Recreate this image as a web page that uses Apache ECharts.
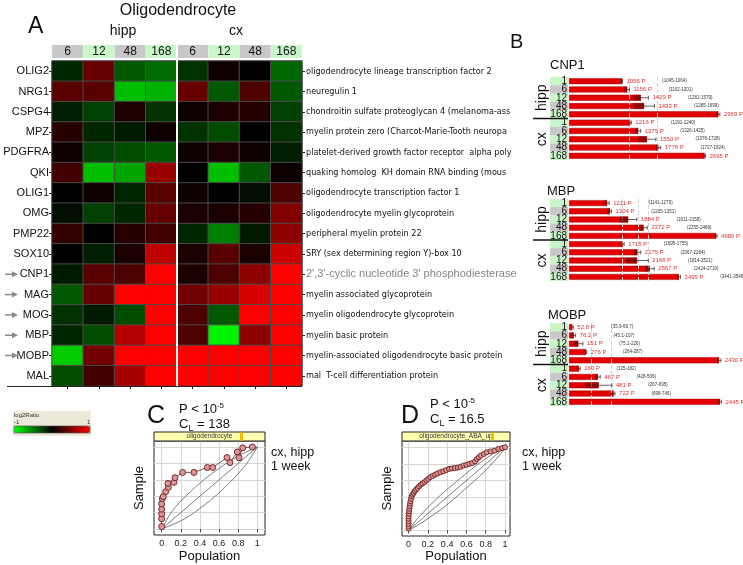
<!DOCTYPE html>
<html><head><meta charset="utf-8">
<script src="https://cdn.jsdelivr.net/npm/echarts@6/dist/echarts.min.js"></script>
<style>html,body{margin:0;padding:0;background:#fff}#c{width:743px;height:565px}</style>
</head><body><div id="c"></div><script>
// ---------- DATA ----------
const timepoints = ['6','12','48','168','6','12','48','168'];
const genes = ['OLIG2','NRG1','CSPG4','MPZ','PDGFRA','QKI','OLIG1','OMG','PMP22','SOX10','CNP1','MAG','MOG','MBP','MOBP','MAL'];
const descriptions = [
 'oligodendrocyte lineage transcription factor 2',
 'neuregulin 1',
 'chondroitin sulfate proteoglycan 4 (melanoma-ass',
 'myelin protein zero (Charcot-Marie-Tooth neuropa',
 'platelet-derived growth factor receptor  alpha poly',
 'quaking homolog  KH domain RNA binding (mous',
 'oligodendrocyte transcription factor 1',
 'oligodendrocyte myelin glycoprotein',
 'peripheral myelin protein 22',
 'SRY (sex determining region Y)-box 10',
 "2',3'-cyclic nucleotide 3' phosphodiesterase",
 'myelin associated glycoprotein',
 'myelin oligodendrocyte glycoprotein',
 'myelin basic protein',
 'myelin-associated oligodendrocyte basic protein',
 'mal  T-cell differentiation protein'
];
const arrowGenes = ['CNP1','MAG','MOG','MBP','MOBP'];
// log2 ratios: columns hipp 6,12,48,168 | cx 6,12,48,168
const log2Ratio = [
 [-0.15, 0.40,-0.35,-0.42,-0.20, 0.05, 0.00,-0.40],
 [ 0.35, 0.35,-0.75,-0.70, 0.40,-0.35, 0.30,-0.35],
 [-0.12,-0.25, 0.10,-0.20, 0.05, 0.10, 0.15,-0.25],
 [ 0.15,-0.15,-0.10, 0.05,-0.20,-0.30, 0.00,-0.20],
 [ 0.05,-0.25,-0.30,-0.35, 0.05, 0.10, 0.05,-0.12],
 [ 0.25,-0.75,-0.65, 0.60, 0.00,-0.75,-0.35, 0.05],
 [ 0.00, 0.05,-0.15, 0.35, 0.05, 0.00,-0.05, 0.30],
 [-0.05,-0.25,-0.15, 0.40, 0.10, 0.10, 0.15, 0.50],
 [ 0.20, 0.00, 0.15, 0.25,-0.15,-0.50,-0.10, 0.55],
 [ 0.00,-0.12, 0.10, 0.75, 0.10, 0.35, 0.10, 0.80],
 [-0.10, 0.35, 0.30, 1.00, 0.10, 0.30, 0.55, 1.00],
 [-0.35, 0.40, 1.00, 1.00, 0.45, 0.60, 0.85, 1.00],
 [-0.20,-0.10,-0.30, 1.00, 0.30,-0.35, 1.00, 1.00],
 [-0.15,-0.30, 0.70, 1.00, 0.30,-0.95, 0.55, 1.00],
 [-0.80, 0.45, 1.00, 1.00, 1.00, 1.00, 1.00, 1.00],
 [-0.30, 0.25, 0.65, 1.00, 1.00, 1.00, 1.00, 1.00]
];
// Panel B
const bTimes = ['1','6','12','48','168','1','6','12','48','168'];
const cnp1Values = [1056,1156,1429,1493,2969,1216,1375,1550,1776,2695];
const cnp1Low    = [1045,1102,1281,1285,2940,1191,1326,1376,1727,2675];
const cnp1High   = [1064,1201,1579,1699,3000,1240,1425,1728,1824,2716];
const cnp1Refs   = [1195,1753];
const mbpValues  = [1211,1304,1884,2372,4680,1715,2175,2166,2567,3495];
const mbpLow     = [1141,1205,1611,2255,4650,1695,2067,1814,2424,3441];
const mbpHigh    = [1279,1351,2158,2489,4710,1755,2284,2521,2710,3549];
const mbpRefs    = [1690,2195,2512];
const mobpValues = [52.8,76.2,151,276,2430,160,467,481,722,2445];
const mobpLow    = [35.9,45.1,75.1,264,2400,135,428,267,698,2420];
const mobpHigh   = [69.7,107,226,287,2460,182,506,695,746,2470];
const mobpRefs   = [367,692];
// Panel C / D
const popTicks = [0,0.2,0.4,0.6,0.8,1];
const cPoints = [[0,0.03],[0,0.126],[0,0.185],[0,0.242],[0,0.306],[0.007,0.37],[0.017,0.395],[0.042,0.456],[0.07,0.508],[0.066,0.556],[0.129,0.569],[0.139,0.625],[0.219,0.69],[0.338,0.69],[0.477,0.75],[0.533,0.75],[0.683,0.871],[0.714,0.81],[0.791,0.94],[0.808,0.87],[0.847,0.99],[0.948,1.0]];
const cUpper = [[0,0],[0.1,0.2],[0.2,0.34],[0.4,0.56],[0.6,0.74],[0.8,0.89],[1,1]];
const cLower = [[0,0],[0.2,0.1],[0.34,0.2],[0.56,0.4],[0.74,0.6],[0.89,0.8],[1,1]];
const dPoints = [[0,0.02],[0,0.05],[0,0.08],[0,0.11],[0,0.14],[0,0.17],[0.003,0.2],[0.005,0.23],[0.008,0.26],[0.012,0.29],[0.016,0.32],[0.02,0.35],[0.026,0.38],[0.033,0.41],[0.042,0.43],[0.052,0.45],[0.064,0.47],[0.078,0.49],[0.093,0.51],[0.11,0.53],[0.127,0.55],[0.145,0.565],[0.165,0.58],[0.185,0.6],[0.205,0.62],[0.225,0.64],[0.25,0.655],[0.275,0.67],[0.3,0.685],[0.33,0.7],[0.36,0.71],[0.39,0.725],[0.42,0.74],[0.45,0.745],[0.48,0.75],[0.51,0.755],[0.54,0.765],[0.57,0.78],[0.6,0.79],[0.63,0.8],[0.66,0.81],[0.69,0.83],[0.71,0.86],[0.73,0.88],[0.75,0.9],[0.78,0.92],[0.81,0.94],[0.85,0.95],[0.89,0.96],[0.93,0.98],[0.97,0.99],[1,1]];
const dUpper = [[0,0],[0.1,0.15],[0.3,0.39],[0.5,0.59],[0.7,0.78],[0.9,0.94],[1,1]];
const dLower = [[0,0],[0.15,0.1],[0.39,0.3],[0.59,0.5],[0.78,0.7],[0.94,0.9],[1,1]];
const diagonal = [[0,0],[1,1]];

// ---------- CHART ----------
const F = "'Liberation Sans', Arial, sans-serif";
const FN = "'Liberation Sans Narrow', 'DejaVu Sans Condensed', 'Liberation Sans', sans-serif";
const chart = echarts.init(document.getElementById('c'), null, {renderer:'canvas'});

const heatData = [];
log2Ratio.forEach((row, r) => row.forEach((v, c) => heatData.push([c, r, v])));

const G = {
  heat: {left:52, top:61, width:250, height:325},
  b1: {left:569, top:77, width:171, height:83},
  b2: {left:569, top:199, width:171, height:82},
  b3: {left:569, top:323, width:171, height:83},
  c: {left:154, top:441, width:111, height:94},
  d: {left:402, top:441, width:108, height:95}
};
const bMax = [3400, 5440, 2770];

function bAxisX(gi, max) {
  return {gridIndex:gi, type:'value', min:0, max:max, axisLabel:{show:false}, axisTick:{show:false},
          axisLine:{show:false}, splitLine:{show:false}};
}
function bAxisY(gi) {
  return {gridIndex:gi, type:'category', data:bTimes, inverse:true,
    axisLine:{show:false}, axisTick:{show:false},
    axisLabel:{margin:1, interval:0, formatter:(v,i)=> ((i%5)%2===0 ? '{g|'+v+'}' : '{s|'+v+'}'),
      rich:{
        g:{backgroundColor:'#c9f5c9', width:17, height:8.3, lineHeight:8.3, align:'right', fontSize:10, fontFamily:F, color:'#111', padding:[0,1,0,0]},
        s:{backgroundColor:'#c8c8c8', width:17, height:8.3, lineHeight:8.3, align:'right', fontSize:10, fontFamily:F, color:'#111', padding:[0,1,0,0]}
      }}};
}
// gi = 0,1,2 -> axis index 2,3,4
function bBar(gi, vals, refs) {
  return {type:'bar', xAxisIndex:gi+2, yAxisIndex:gi+2, data:vals, barWidth:'72%',
    itemStyle:{color:'#e40000', borderColor:'#a00000', borderWidth:0.5}, silent:true,
    markLine:{silent:true, symbol:'none', label:{show:false},
      lineStyle:{type:'dashed', color:'#d4d4d4', width:1}, data:refs.map(r=>({xAxis:r}))}};
}
function bErr(gi, vals, lo, hi) {
  return {type:'custom', xAxisIndex:gi+2, yAxisIndex:gi+2, silent:true, z:5,
    data: vals.map((v,i)=>[v, lo[i], hi[i], i]),
    encode:{x:[0,1,2], y:3},
    renderItem:(params, api) => {
      const v = api.value(0), l = api.value(1), h = api.value(2), r = api.value(3);
      const pv = api.coord([v, r]), pl = api.coord([l, r]), ph = api.coord([h, r]);
      const bh = api.size([0,1])[1] * 0.72;
      return {type:'group', children:[
        {type:'rect', shape:{x:pl[0], y:pv[1]-bh/2, width:Math.max(0,pv[0]-pl[0]), height:bh}, style:{fill:'#7a0000', opacity:0.55}},
        {type:'line', shape:{x1:pl[0], y1:pv[1], x2:ph[0], y2:pv[1]}, style:{stroke:'#222', lineWidth:0.7}},
        {type:'line', shape:{x1:ph[0], y1:pv[1]-2, x2:ph[0], y2:pv[1]+2}, style:{stroke:'#222', lineWidth:0.7}},
        {type:'text', x:ph[0]+4, y:pv[1], style:{
          text:'{r|'+v+' P}     {k|('+l+'-'+h+')}', verticalAlign:'middle', textVerticalAlign:'middle',
          rich:{r:{fontSize:6, fill:'#e03030', fontFamily:F}, k:{fontSize:4.5, fill:'#333', fontFamily:F}}}}
      ]};
    }};
}

function cdAxes(gi, xmin, xmax, ymin, ymax) {
  return [
    {gridIndex:gi, type:'value', min:xmin, max:xmax, axisLine:{show:false},
      axisTick:{show:true, length:3, customValues:popTicks, lineStyle:{color:'#444'}},
      axisLabel:{customValues:popTicks, fontSize:9, color:'#222', margin:4, fontFamily:F, formatter:v=>String(+(+v).toFixed(1))},
      splitLine:{show:true, lineStyle:{color:'#d6d6d6'}}},
    {gridIndex:gi, type:'value', min:ymin, max:ymax, axisLine:{show:false},
      axisTick:{show:false, customValues:popTicks}, axisLabel:{show:false, customValues:popTicks},
      splitLine:{show:true, lineStyle:{color:'#d6d6d6'}}}
  ];
}
function envLine(ax, data) {
  return {type:'line', xAxisIndex:ax, yAxisIndex:ax, data:data, symbol:'none', smooth:0.3, silent:true,
    lineStyle:{color:'#444', width:0.7}};
}
function curve(ax, data, size) {
  return {type:'line', xAxisIndex:ax, yAxisIndex:ax, data:data, symbol:'circle', symbolSize:size, silent:true, z:4,
    lineStyle:{color:'#333', width:0.8}, itemStyle:{color:'#d79a9a', borderColor:'#7a2424', borderWidth:1}};
}

const cAx = cdAxes(4, -0.08, 1.08, -0.073, 1.073);
const dAx = cdAxes(5, -0.068, 1.052, -0.069, 1.076);

const option = {
  animation:false,
  backgroundColor:'#fff',
  grid:[
    Object.assign({}, G.heat),
    Object.assign({}, G.b1), Object.assign({}, G.b2), Object.assign({}, G.b3),
    Object.assign({show:true, borderColor:'#222', borderWidth:1}, G.c),
    Object.assign({show:true, borderColor:'#222', borderWidth:1}, G.d)
  ],
  xAxis:[
    {gridIndex:0, type:'category', data:timepoints, position:'top', axisLine:{show:false}, axisTick:{show:false},
      axisLabel:{margin:3, interval:0, formatter:(v,i)=> (i%2===0 ? '{g|'+v+'}' : '{l|'+v+'}'),
        rich:{
          g:{backgroundColor:'#c8c8c8', width:31, height:13, lineHeight:13, align:'center', fontSize:12, fontFamily:F, color:'#111'},
          l:{backgroundColor:'#c9f7c9', width:31, height:13, lineHeight:13, align:'center', fontSize:12, fontFamily:F, color:'#111'}
        }}},
    {gridIndex:0, type:'category', data:timepoints, position:'bottom', axisLine:{show:false},
      axisTick:{show:true, alignWithLabel:true, length:3, lineStyle:{color:'#222'}}, axisLabel:{show:false}},
    bAxisX(1, bMax[0]), bAxisX(2, bMax[1]), bAxisX(3, bMax[2]),
    cAx[0], dAx[0]
  ],
  yAxis:[
    {gridIndex:0, type:'category', data:genes, inverse:true, position:'left', axisLine:{show:false},
      axisTick:{show:true, alignWithLabel:true, length:3, lineStyle:{color:'#222'}},
      axisLabel:{margin:3, interval:0, fontSize:11, color:'#111', fontFamily:F}},
    {gridIndex:0, type:'category', data:descriptions, inverse:true, position:'right', axisLine:{show:false},
      axisTick:{show:true, alignWithLabel:true, length:3, lineStyle:{color:'#222'}},
      axisLabel:{margin:4, interval:0, fontSize:9, color:'#111', fontFamily:FN,
        formatter:(v,i)=> (i===10 ? '{s|'+v+'}' : v),
        rich:{s:{fontSize:11, color:'#858585', fontFamily:F}}}},
    bAxisY(1), bAxisY(2), bAxisY(3),
    cAx[1], dAx[1]
  ],
  visualMap:{type:'continuous', seriesIndex:0, dimension:2, min:-1, max:1, orient:'horizontal',
    left:14, top:426, itemWidth:7, itemHeight:76, calculable:false, hoverLink:false, showLabel:false,
    text:null, padding:0, z:10, inRange:{color:['#00ff00','#000000','#ff0000']}},
  series:[
    {type:'heatmap', xAxisIndex:0, yAxisIndex:0, data:heatData, silent:true,
      itemStyle:{borderColor:'#4a4a4a', borderWidth:1}},
    bBar(0, cnp1Values, cnp1Refs), bBar(1, mbpValues, mbpRefs), bBar(2, mobpValues, mobpRefs),
    bErr(0, cnp1Values, cnp1Low, cnp1High), bErr(1, mbpValues, mbpLow, mbpHigh), bErr(2, mobpValues, mobpLow, mobpHigh),
    envLine(5, cUpper), envLine(5, diagonal), envLine(5, cLower), curve(5, cPoints, 6),
    envLine(6, dUpper), envLine(6, diagonal), envLine(6, dLower), curve(6, dPoints, 5)
  ]
};
chart.setOption(option);

// ---------- DECORATIONS ----------
function txt(x, y, text, size, extra) {
  return Object.assign({type:'text', x:x, y:y, silent:true, z:20, style:Object.assign({text:text, fontSize:size, fontFamily:F, fill:'#111'}, (extra||{}))});
}
const CM = {align:'center', textAlign:'center', verticalAlign:'middle', textVerticalAlign:'middle'};
const g = [];
g.push(txt(178, 11, 'Oligodendrocyte', 16, CM));
g.push(txt(28, 15, 'A', 23));
g.push(txt(123, 31, 'hipp', 14, CM));
g.push(txt(236, 31, 'cx', 14, CM));

// arrows
arrowGenes.forEach(n => {
  const y = chart.convertToPixel({yAxisIndex:0}, n);
  g.push({type:'line', silent:true, z:20, shape:{x1:5, y1:y, x2:13, y2:y}, style:{stroke:'#8a8a8a', lineWidth:1.5}});
  g.push({type:'polygon', silent:true, z:20, shape:{points:[[12,y-3],[18,y],[12,y+3]]}, style:{fill:'#8a8a8a'}});
});
// hipp/cx separator in heatmap
const x3 = chart.convertToPixel({xAxisIndex:0}, 3), x4 = chart.convertToPixel({xAxisIndex:0}, 4);
const xs = (x3 + x4) / 2;
g.push({type:'line', silent:true, z:20, shape:{x1:xs, y1:45, x2:xs, y2:G.heat.top+G.heat.height}, style:{stroke:'#fff', lineWidth:2}});
// bottom axis line
const yb = G.heat.top + G.heat.height + 0.5;
g.push({type:'line', silent:true, z:20, shape:{x1:7, y1:yb, x2:G.heat.left+G.heat.width, y2:yb}, style:{stroke:'#222', lineWidth:1}});

// colour legend box
g.push({type:'rect', silent:true, z:-1, shape:{x:13, y:411, width:78, height:25}, style:{fill:'#ece9da'}});
g.push(txt(14, 412, 'log2Ratio', 6, {fill:'#333'}));
g.push(txt(14, 419.5, '-1', 6, {fill:'#333'}));
g.push(txt(87, 419.5, '1', 6, {fill:'#333'}));
g.push({type:'rect', silent:true, z:30, shape:{x:14, y:426, width:76, height:7}, style:{fill:'none', stroke:'#555', lineWidth:0.7}});

// Panel B
g.push(txt(510, 32, 'B', 20));
const bTitles = [['CNP1', 550, 59], ['MBP', 547, 185], ['MOBP', 548, 309]];
bTitles.forEach(t => g.push(txt(t[1], t[2], t[0], 13)));
[2,3,4].forEach(ax => {
  const y0 = chart.convertToPixel({yAxisIndex:ax}, 0);
  const y4 = chart.convertToPixel({yAxisIndex:ax}, 4);
  const y5 = chart.convertToPixel({yAxisIndex:ax}, 5);
  const y9 = chart.convertToPixel({yAxisIndex:ax}, 9);
  const ysep = (y4 + y5) / 2;
  g.push({type:'line', silent:true, z:20, shape:{x1:533, y1:ysep, x2:568, y2:ysep}, style:{stroke:'#111', lineWidth:1.3}});
  const t1 = txt(542, (y0+y4)/2, 'hipp', 14, CM); t1.rotation = Math.PI/2; g.push(t1);
  const t2 = txt(542, (y5+y9)/2, 'cx', 14, CM); t2.rotation = Math.PI/2; g.push(t2);
});

// Panels C and D
const supRich = {sup:{fontSize:8, verticalAlign:'top', fontFamily:F, fill:'#111'}, sub:{fontSize:9, verticalAlign:'bottom', fontFamily:F, fill:'#111'}};
function panel(gr, letter, lx, ly, px, py, cl, barText, markX, labX) {
  g.push(txt(lx, ly, letter, 25));
  g.push(txt(px, py, 'P < 10{sup|-5}', 13, {rich:supRich, lineHeight:15}));
  g.push(txt(px, py+14, 'C{sub|L} = ' + cl, 13, {rich:supRich, lineHeight:17}));
  g.push({type:'rect', silent:true, z:20, shape:{x:gr.left, y:gr.top-9, width:gr.width, height:9}, style:{fill:'#ffffb0', stroke:'#222', lineWidth:1}});
  g.push({type:'rect', silent:true, z:21, shape:{x:markX, y:gr.top-8.5, width:3, height:8}, style:{fill:'#f5bb00'}});
  g.push(txt(gr.left + gr.width/2, gr.top-4.5, barText, 6.5, Object.assign({fill:'#333'}, CM)));
  g.push(txt(labX, 446, 'cx, hipp\n1 week', 12.5, {lineHeight:14}));
  const s = txt(gr.left - 15, gr.top + gr.height/2, 'Sample', 13, CM);
  s.rotation = Math.PI/2; g.push(s);
  g.push(txt(gr.left + gr.width/2, 556, 'Population', 13, CM));
}
panel(G.c, 'C', 147, 404, 179, 402, '138', 'oligodendrocyte', 240, 271);
panel(G.d, 'D', 401, 404, 430, 397, '16.5', 'oligodendrocyte_ABA_up', 491, 522);

chart.setOption({graphic:{elements:g}});
</script></body></html>
